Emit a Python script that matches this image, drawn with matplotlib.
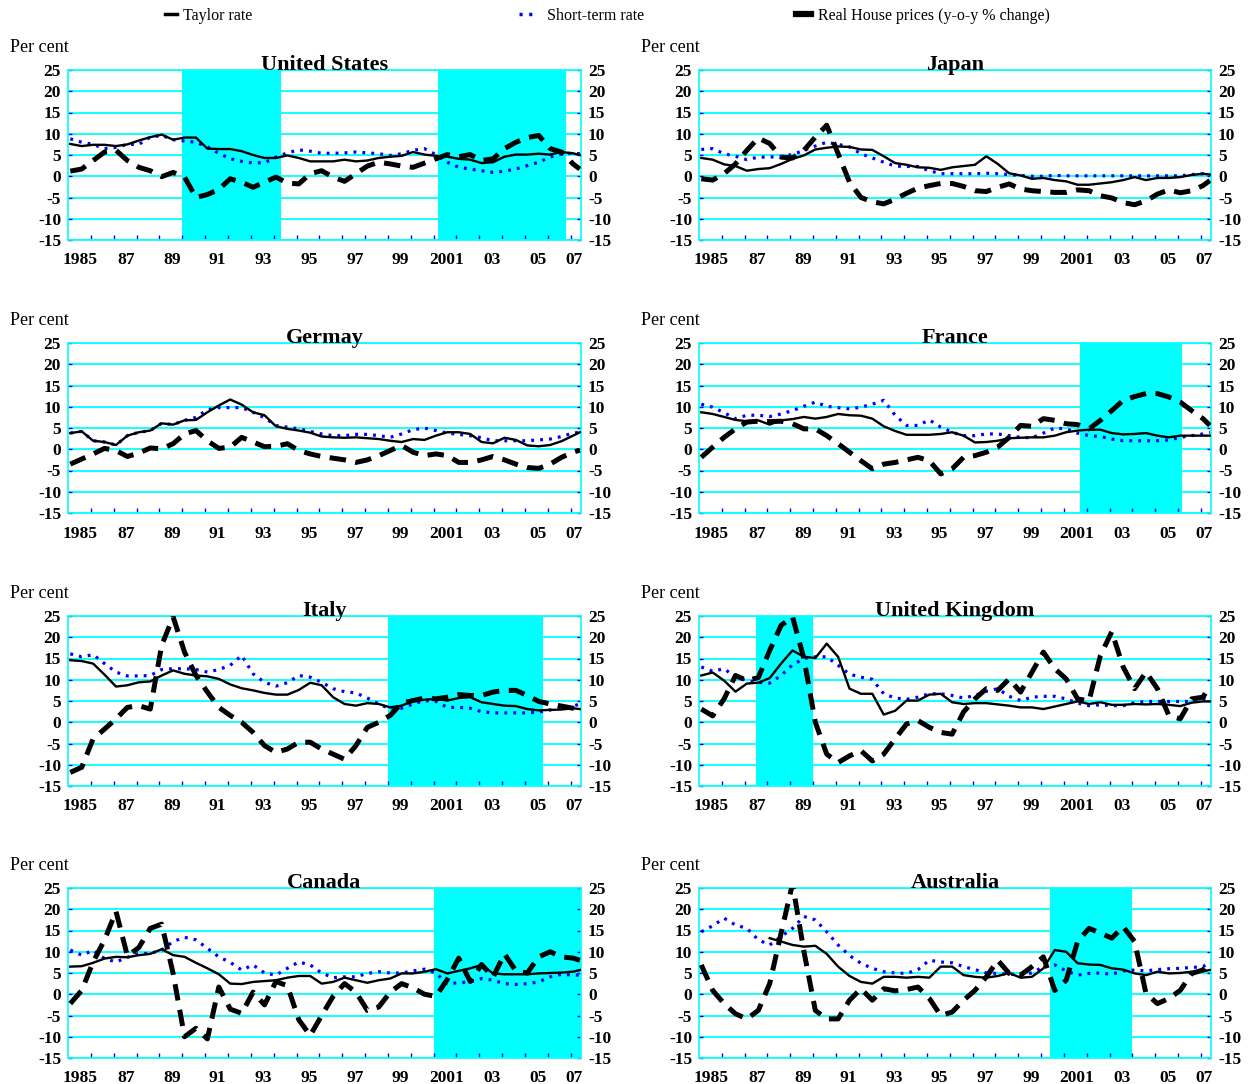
import numpy as np
import matplotlib.pyplot as plt
from matplotlib.lines import Line2D

plt.rcParams['font.family'] = ['Liberation Serif', 'DejaVu Serif']
plt.rcParams['axes.unicode_minus'] = False

# %% Data (half-yearly readings, per cent)
dates = np.append(np.arange(1985.1, 2007.2, 0.5), 2007.4)
nan = np.nan

us_taylor = [7.6, 7.1, 7.4, 7.4, 7.1, 7.5, 8.4, 9.2, 9.8, 8.6,
             9.1, 9.1, 6.5, 6.4, 6.4, 5.9, 5.0, 4.3, 4.3, 4.9,
             4.3, 3.5, 3.5, 3.5, 3.9, 3.5, 3.7, 4.3, 4.6, 4.8,
             5.7, 5.1, 4.8, 4.6, 4.1, 3.9, 3.1, 3.3, 4.6, 5.1,
             5.1, 5.3, 5.1, 5.7, 5.4, 5.0]
us_short = [8.8, 8.0, 7.5, 6.5, 6.8, 7.5, 7.5, 9.2, 9.6, 8.6,
            8.3, 8.0, 6.9, 5.4, 4.1, 3.5, 3.1, 3.2, 4.5, 5.5,
            6.2, 5.9, 5.4, 5.4, 5.5, 5.7, 5.5, 5.3, 4.9, 5.3,
            6.1, 6.5, 5.1, 3.3, 2.1, 1.7, 1.3, 0.9, 1.2, 1.7,
            2.5, 3.3, 4.5, 5.3, 5.4, 5.3]
us_house = [1.2, 1.7, 3.7, 5.7, 6.1, 3.7, 2.1, 1.3, -0.1, 0.9,
            -0.2, -5.0, -4.3, -3.1, -0.6, -1.4, -2.6, -1.4, -0.2, -1.6,
            -1.8, 0.6, 1.3, -0.2, -1.2, 0.6, 2.4, 3.3, 2.9, 2.4,
            2.1, 3.1, 4.1, 5.1, 4.6, 5.1, 3.7, 4.1, 6.5, 8.0,
            9.1, 9.6, 6.5, 5.7, 2.9, 1.7]

jp_taylor = [4.3, 3.9, 2.8, 2.4, 1.3, 1.7, 1.9, 2.9, 4.1, 4.9,
             6.3, 6.7, 7.0, 6.9, 6.3, 6.2, 4.7, 3.1, 2.7, 2.1,
             2.0, 1.5, 2.1, 2.4, 2.7, 4.7, 2.9, 0.7, 0.2, -0.6,
             -0.4, -0.9, -1.2, -2.0, -2.0, -1.7, -1.4, -0.9, -0.2, -0.9,
             -0.4, -0.4, -0.2, 0.3, 0.6, 0.4]
jp_short = [6.3, 6.5, 5.3, 4.7, 3.9, 4.5, 4.5, 4.7, 5.1, 6.1,
            7.1, 8.0, 7.5, 6.9, 5.3, 4.3, 3.3, 2.4, 2.3, 2.3,
            1.3, 0.6, 0.6, 0.6, 0.6, 0.7, 0.6, 0.4, 0.2, 0.0,
            0.0, 0.2, 0.1, 0.1, 0.1, 0.1, 0.1, 0.1, 0.1, 0.1,
            0.1, 0.1, 0.1, 0.4, 0.6, 0.6]
jp_house = [-0.6, -0.9, 0.6, 2.9, 6.1, 9.0, 7.7, 4.5, 4.3, 6.1,
            9.2, 12.0, 5.3, -1.4, -5.0, -6.0, -6.5, -5.4, -4.0, -2.8,
            -2.2, -1.7, -1.7, -2.4, -3.4, -3.6, -2.6, -1.8, -3.0, -3.4,
            -3.6, -3.8, -3.8, -3.2, -3.4, -4.6, -5.1, -6.2, -6.7, -5.8,
            -4.2, -3.2, -3.9, -3.4, -2.2, -1.0]

de_taylor = [3.8, 4.2, 2.0, 1.7, 1.0, 3.2, 4.0, 4.4, 6.1, 5.8,
             6.8, 6.9, 8.7, 10.3, 11.7, 10.5, 8.7, 8.0, 5.4, 4.8,
             4.4, 3.9, 3.0, 2.8, 2.7, 2.8, 2.6, 2.4, 2.0, 1.7,
             2.4, 2.2, 3.2, 4.0, 4.0, 3.6, 1.7, 1.4, 2.7, 2.2,
             0.9, 0.7, 1.0, 1.9, 3.2, 4.0]
de_short = [3.8, 4.2, 2.0, 1.7, 1.0, 3.2, 4.0, 4.4, 6.1, 5.8,
            6.8, 7.5, 9.3, 9.8, 9.8, 9.8, 8.7, 7.4, 5.6, 5.2,
            4.8, 4.2, 3.6, 3.2, 3.2, 3.5, 3.5, 3.2, 2.8, 3.6,
            4.6, 5.0, 4.4, 3.8, 3.5, 3.2, 2.7, 2.0, 2.0, 2.0,
            2.0, 2.2, 2.4, 3.0, 3.8, 4.0]
de_house = [-3.5, -2.3, -1.1, 0.2, -0.3, -1.7, -0.9, 0.3, 0.1, 1.3,
            3.6, 4.4, 2.0, 0.2, 0.5, 2.8, 1.7, 0.6, 0.7, 1.3,
            -0.3, -1.1, -1.7, -2.1, -2.5, -3.1, -2.5, -1.5, -0.3, 0.9,
            -0.7, -1.5, -1.1, -1.5, -3.1, -3.1, -2.5, -1.7, -2.5, -3.5,
            -4.3, -4.5, -3.5, -1.9, -0.7, -0.2]

fr_taylor = [8.7, 8.3, 7.6, 6.9, 6.6, 6.8, 5.8, 6.8, 7.1, 7.6,
             7.2, 7.6, 8.3, 8.0, 7.9, 7.2, 5.4, 4.3, 3.4, 3.4,
             3.4, 3.6, 4.0, 3.2, 1.6, 1.7, 2.0, 2.6, 2.7, 2.8,
             2.8, 3.2, 4.0, 4.4, 4.6, 4.6, 3.8, 3.5, 3.6, 3.8,
             3.2, 2.8, 3.2, 3.2, 3.2, 3.2]
fr_short = [10.6, 9.9, 8.6, 7.2, 8.0, 8.0, 7.7, 8.3, 9.1, 10.1,
            11.1, 10.1, 9.8, 9.5, 9.9, 10.6, 11.5, 8.0, 5.6, 5.6,
            6.9, 5.2, 4.0, 3.2, 3.2, 3.6, 3.6, 3.2, 2.8, 2.7,
            3.8, 5.0, 4.8, 3.8, 3.2, 3.0, 2.4, 2.0, 2.0, 2.0,
            2.0, 2.2, 2.8, 3.2, 3.6, 4.0]
fr_house = [-1.9, 0.5, 2.8, 4.8, 6.4, 6.6, 6.5, 6.6, 6.0, 4.8,
            4.8, 3.2, 1.3, -0.7, -2.7, -4.6, -3.5, -3.1, -2.5, -1.9,
            -2.7, -5.8, -4.6, -1.9, -1.5, -0.7, 0.5, 2.8, 5.6, 5.4,
            7.2, 6.8, 6.0, 5.8, 4.8, 6.8, 9.1, 11.5, 12.4, 13.1,
            13.1, 12.3, 11.1, 9.1, 7.2, 5.6]

it_taylor = [14.6, 14.4, 13.8, 11.2, 8.4, 8.7, 9.4, 9.6, 11.0, 12.2,
             11.4, 11.0, 10.8, 10.2, 8.9, 8.0, 7.5, 6.9, 6.5, 6.5,
             7.6, 9.3, 8.7, 5.9, 4.3, 3.9, 4.5, 4.3, 3.5, 3.9,
             5.0, 5.3, 5.5, 5.1, 5.7, 5.9, 4.7, 4.3, 3.9, 3.8,
             3.1, 2.8, 2.9, 3.0, 3.3, 3.1]
it_short = [16.1, 15.4, 15.9, 13.8, 11.8, 10.9, 10.9, 11.0, 12.4, 12.6,
            12.6, 12.4, 11.8, 12.4, 13.4, 15.7, 11.4, 9.4, 8.5, 9.3,
            11.0, 10.6, 9.4, 7.9, 7.2, 6.9, 5.7, 4.3, 3.1, 3.3,
            4.3, 5.1, 4.9, 3.5, 3.5, 3.3, 2.5, 2.2, 2.2, 2.2,
            2.2, 2.4, 2.9, 3.3, 3.8, 4.3]
it_house = [-11.8, -10.6, -3.9, -1.6, 0.8, 3.5, 3.9, 3.1, 18.1, 24.8,
            16.5, 11.0, 7.1, 3.5, 1.6, 0.0, -2.4, -5.5, -7.1, -6.3,
            -4.7, -4.7, -6.3, -7.5, -8.7, -5.5, -1.2, 0.0, 1.6, 4.5,
            5.1, 5.7, 5.5, 5.9, 6.5, 6.3, 6.3, 7.1, 7.5, 7.5,
            6.3, 4.9, 4.3, 3.8, 3.3, 2.9]

uk_taylor = [11.0, 11.7, 9.8, 7.2, 9.1, 9.3, 10.4, 13.8, 16.9, 15.4,
             15.1, 18.5, 15.4, 7.9, 6.7, 6.7, 1.8, 2.7, 5.1, 5.1,
             6.5, 6.7, 4.7, 4.3, 4.5, 4.5, 4.2, 3.9, 3.5, 3.5,
             3.1, 3.7, 4.3, 4.9, 4.3, 4.7, 4.1, 4.1, 4.3, 4.2,
             4.3, 4.1, 3.8, 4.6, 4.9, 4.9]
uk_short = [13.0, 12.0, 12.6, 10.6, 9.8, 9.4, 9.2, 11.0, 13.5, 15.0,
            15.4, 15.4, 13.4, 11.3, 10.6, 10.1, 6.7, 5.7, 5.4, 5.9,
            6.7, 6.7, 6.3, 5.7, 6.3, 7.3, 7.9, 6.1, 5.1, 5.9,
            6.1, 6.1, 5.5, 4.5, 3.9, 4.1, 3.9, 3.9, 4.6, 4.9,
            4.9, 4.9, 4.9, 4.9, 5.5, 5.5]
uk_house = [3.1, 1.5, 5.5, 11.0, 9.8, 10.5, 16.9, 22.8, 24.8, 15.0,
            0.0, -7.5, -9.5, -7.9, -6.7, -9.1, -7.5, -3.9, -0.4, 0.4,
            -1.2, -2.4, -2.8, 2.4, 5.5, 7.9, 7.5, 10.2, 7.1, 11.8,
            16.5, 12.6, 10.2, 5.5, 5.0, 15.7, 21.3, 13.0, 7.9, 11.8,
            7.9, 1.6, 0.8, 5.5, 5.9, 8.7]

ca_taylor = [6.5, 6.6, 7.4, 8.4, 8.8, 8.7, 9.2, 9.5, 10.6, 9.2,
             8.8, 7.4, 6.1, 4.7, 2.5, 2.4, 2.9, 3.1, 3.3, 3.9,
             4.3, 4.3, 2.5, 2.9, 3.9, 3.3, 2.7, 3.3, 3.7, 4.9,
             4.9, 5.3, 5.9, 4.9, 5.5, 6.1, 6.9, 4.9, 4.7, 4.7,
             4.7, 4.9, 5.0, 5.1, 5.3, 5.7]
ca_short = [10.4, 9.2, 10.3, 8.4, 7.6, 8.7, 9.6, 9.6, 10.4, 12.4,
            13.4, 12.8, 10.8, 8.8, 7.5, 5.7, 6.9, 5.0, 4.5, 6.1,
            7.6, 6.9, 5.0, 3.9, 4.1, 4.1, 4.9, 5.3, 5.0, 5.0,
            5.5, 5.9, 5.0, 2.5, 2.7, 2.9, 3.7, 3.3, 2.5, 2.3,
            2.5, 2.9, 4.1, 4.7, 4.5, 4.5]
ca_house = [-2.2, 0.9, 7.6, 12.8, 19.5, 9.0, 11.0, 15.5, 16.5, 4.9,
            -10.0, -8.0, -10.5, 1.7, -3.5, -4.5, 0.5, -2.5, 3.0, 2.0,
            -6.0, -9.7, -5.0, -0.5, 2.5, 0.5, -3.8, -3.0, 0.5, 2.5,
            1.5, 0.0, -0.5, 3.5, 8.5, 3.0, 7.0, 4.0, 9.5, 5.5,
            5.0, 8.8, 10.0, 8.8, 8.5, 8.0]

au_taylor = [nan, nan, nan, nan, nan, nan, 13.2, 12.4, 11.6, 11.2,
             11.4, 9.5, 6.5, 4.3, 2.9, 2.5, 4.1, 4.1, 3.9, 4.1,
             3.9, 6.5, 6.5, 4.5, 4.1, 3.9, 4.3, 5.0, 3.9, 4.1,
             6.1, 10.4, 10.0, 7.3, 7.0, 6.9, 6.1, 5.8, 4.9, 4.5,
             5.3, 4.9, 5.0, 5.3, 5.4, 5.7]
au_short = [14.7, 16.1, 17.9, 16.3, 15.5, 12.8, 11.6, 13.6, 15.5, 18.3,
            17.5, 14.7, 11.6, 9.1, 7.3, 6.1, 5.3, 5.0, 4.9, 5.8,
            8.0, 7.6, 7.4, 6.5, 5.8, 5.0, 4.9, 4.7, 4.7, 5.0,
            6.5, 6.9, 5.5, 4.5, 4.9, 5.0, 4.7, 5.5, 5.7, 5.5,
            5.8, 6.0, 6.1, 6.3, 6.5, 7.6]
au_house = [6.9, 0.9, -2.2, -4.6, -5.8, -3.8, 2.5, 14.4, 26.0, 10.1,
            -3.8, -5.8, -5.8, -1.4, 1.3, -1.4, 1.3, 0.8, 1.1, 1.7,
            -1.0, -5.0, -4.2, -1.4, 0.9, 4.1, 8.0, 4.9, 4.5, 6.5,
            8.8, 0.9, 3.3, 12.4, 15.5, 14.4, 13.2, 15.9, 12.4, 0.2,
            -2.2, -1.0, 0.9, 4.9, 5.7, 7.6]

# shaded periods (start, end) in years
us_spans = [(1990.0, 1994.3), (2001.2, 2006.8)]
fr_spans = [(2001.7, 2006.2)]
it_spans = [(1999.0, 2005.8)]
uk_spans = [(1987.5, 1990.0)]
ca_spans = [(2001.0, 2007.45)]
au_spans = [(2000.4, 2004.0)]

tick_years = [1985, 1987, 1989, 1991, 1993, 1995, 1997, 1999, 2001, 2003, 2005, 2007]
tick_labels = ['1985', '87', '89', '91', '93', '95', '97', '99', '2001', '03', '05', '07']

panels = [
    ("United States", us_taylor, us_short, us_house, us_spans),
    ("Japan", jp_taylor, jp_short, jp_house, []),
    ("Germay", de_taylor, de_short, de_house, []),
    ("France", fr_taylor, fr_short, fr_house, fr_spans),
    ("Italy", it_taylor, it_short, it_house, it_spans),
    ("United Kingdom", uk_taylor, uk_short, uk_house, uk_spans),
    ("Canada", ca_taylor, ca_short, ca_house, ca_spans),
    ("Australia", au_taylor, au_short, au_house, au_spans),
]

# %% Figure
W, H = 1253, 1084
fig = plt.figure(figsize=(W / 100, H / 100), dpi=100)

CYAN = '#00FFFF'
BLUE = '#0000FF'
col_x = [68, 699]
col_w = [513, 512]
row_top = [70, 343, 616, 888]
ax_h = 170

for i, (title, taylor, short, house, spans) in enumerate(panels):
    r, c = divmod(i, 2)
    ax = fig.add_axes([col_x[c] / W, 1 - (row_top[r] + ax_h) / H, col_w[c] / W, ax_h / H])
    for a, b in spans:
        ax.axvspan(a, b, color=CYAN, lw=0, zorder=0)
    ax.set_xlim(1985, 2007.45)
    ax.set_ylim(-15, 25)
    ax.set_yticks(range(-15, 30, 5))
    ax.grid(axis='y', color=CYAN, lw=1.3, zorder=1)
    ax.set_axisbelow(True)
    for s in ax.spines.values():
        s.set_color(CYAN)
        s.set_linewidth(1.2)

    ax.plot(dates, short, color=BLUE, lw=2.3, linestyle=(0, (0.9, 1.9)), zorder=3)
    ax.plot(dates, taylor, color='black', lw=1.7, zorder=4)
    ax.plot(dates, house, color='black', lw=3.6, linestyle=(0, (3.3, 1.9)), zorder=5)

    pos = [min(y + 0.55, 2007.13) for y in tick_years]
    ax.set_xticks(pos)
    ax.set_xticklabels(tick_labels)
    ax.set_xticks(np.arange(1986, 2008), minor=True)
    ax.tick_params(axis='x', which='major', length=0, pad=9, labelsize=12.5)
    ax.tick_params(axis='x', which='minor', direction='in', length=3.5, color=BLUE, width=1)
    ax.tick_params(axis='y', direction='in', length=3, color=BLUE, width=1,
                   right=True, labelright=True, labelsize=12.5, pad=5)
    for lab in ax.get_xticklabels() + ax.get_yticklabels():
        lab.set_fontweight('bold')

    ax.text(0.5, 1.0, title, transform=ax.transAxes, ha='center', va='baseline',
            fontsize=16, fontweight='bold', zorder=6)
    fig.text((col_x[c] - 58) / W, 1 - (row_top[r] - 18) / H, 'Per cent',
             ha='left', va='baseline', fontsize=13)

# %% Legend
legend_items = [
    (Line2D([], [], color='black', lw=2.5), 'Taylor rate', 165, 0.75, 0.4),
    (Line2D([], [], color=BLUE, lw=2.5, linestyle=(0, (0.9, 1.9))), 'Short-term rate', 519, 1.0, 0.75),
    (Line2D([], [], color='black', lw=4.5), 'Real House prices (y-o-y % change)', 796, 0.95, 0.45),
]
for handle, label, x, hl, hp in legend_items:
    fig.legend([handle], [label], loc='center left', bbox_to_anchor=(x / W, 1 - 16 / H),
               frameon=False, fontsize=11.5, handlelength=hl, handletextpad=hp,
               borderpad=0, borderaxespad=0)

fig.savefig('out.png', dpi=100)
